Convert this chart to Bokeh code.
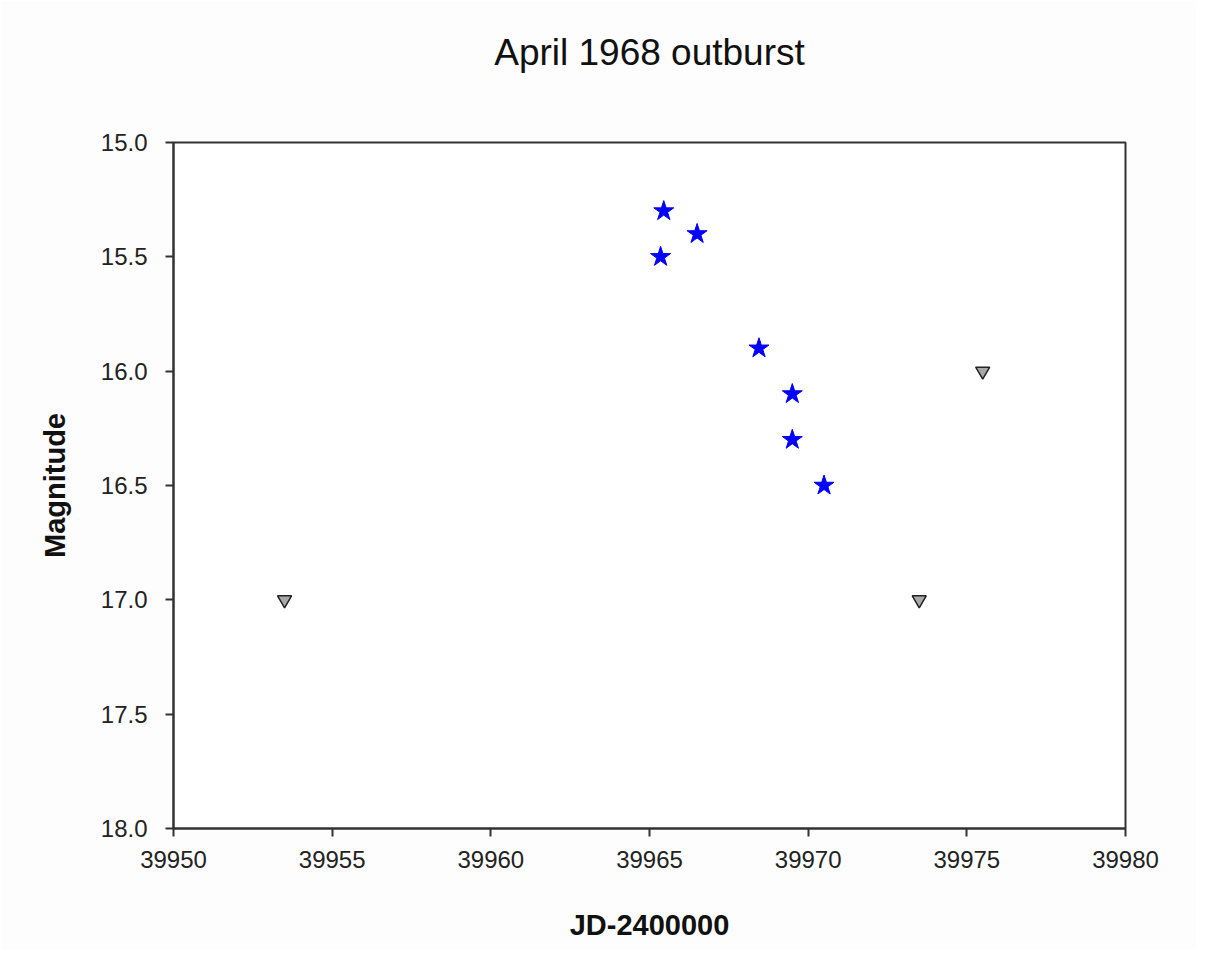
from bokeh.plotting import figure
from bokeh.models import Range1d, FixedTicker, Title
from bokeh.embed import file_html
from bokeh.resources import INLINE

# Detections (blue stars)
det_jd = [39965.45, 39966.5, 39965.35, 39968.45, 39969.5, 39969.5, 39970.5]
det_mag = [15.3, 15.4, 15.5, 15.9, 16.1, 16.3, 16.5]
# Upper limits (gray inverted triangles)
lim_jd = [39953.5, 39973.5, 39975.5]
lim_mag = [17.0, 17.0, 16.0]

x_ticks = [39950, 39955, 39960, 39965, 39970, 39975, 39980]
y_ticks = [15.0, 15.5, 16.0, 16.5, 17.0, 17.5, 18.0]

p = figure(width=1196, height=950, output_backend="svg", toolbar_location=None,
           x_range=Range1d(39950, 39980), y_range=Range1d(18.0, 15.0),
           min_border_left=173, min_border_right=71, min_border_top=142, min_border_bottom=122,
           title="April 1968 outburst")
p.title.align = "center"
p.title.text_font = "Liberation Sans"
p.title.text_font_size = "37px"
p.title.text_font_style = "normal"
p.title.text_color = "#111111"
p.title.offset = -12
p.title.standoff = 54

# empty spacer panel between title and frame
spacer = Title(text=" ", text_font_size="36px", standoff=0)
p.add_layout(spacer, "above")

p.background_fill_color = "white"
p.border_fill_color = "#fdfdfd"
p.outline_line_color = "#333333"
p.outline_line_width = 2
p.xgrid.visible = False
p.ygrid.visible = False

for ax in (p.xaxis[0], p.yaxis[0]):
    ax.axis_line_color = "#333333"
    ax.axis_line_width = 2
    ax.major_tick_line_color = "#333333"
    ax.major_tick_line_width = 2
    ax.major_tick_in = 0
    ax.major_tick_out = 8
    ax.minor_tick_line_color = None
    ax.major_label_text_font = "Liberation Sans"
    ax.major_label_text_font_size = "24px"
    ax.major_label_text_color = "#222222"
    ax.axis_label_text_font = "Liberation Sans"
    ax.axis_label_text_font_size = "29px"
    ax.axis_label_text_font_style = "bold"
    ax.axis_label_text_color = "#111111"

p.xaxis.ticker = FixedTicker(ticks=x_ticks)
p.yaxis.ticker = FixedTicker(ticks=y_ticks)
p.xaxis.major_label_overrides = {t: str(t) for t in x_ticks}
p.yaxis.major_label_overrides = {t: f"{t:.1f}" for t in y_ticks}
p.xaxis.axis_label = "JD-2400000"
p.yaxis.axis_label = "Magnitude"
p.xaxis.major_label_standoff = 14
p.yaxis.major_label_standoff = 18
p.xaxis.axis_label_standoff = 38
p.yaxis.axis_label_standoff = 27

p.scatter(det_jd, det_mag, marker="star", size=21, fill_color="#0000ff",
          line_color="#0000ff", line_width=1)
p.scatter(lim_jd, lim_mag, marker="inverted_triangle", size=14, fill_color="#a8a8a8",
          line_color="#222222", line_width=1.5)

open("out.html", "w").write(file_html(p, INLINE))
